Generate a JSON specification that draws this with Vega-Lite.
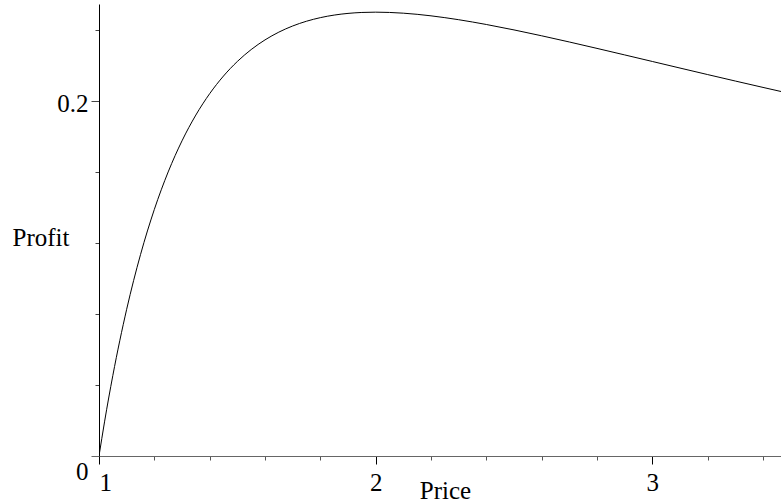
{
  "$schema": "https://vega.github.io/schema/vega-lite/v6.json",
  "width": 682,
  "height": 452,
  "autosize": {"type": "none"},
  "padding": {"left": 99, "top": 4, "right": 0, "bottom": 46},
  "background": "white",
  "config": {
    "view": {"stroke": null},
    "axis": {
      "grid": false,
      "labelFont": "Liberation Serif",
      "titleFont": "Liberation Serif",
      "labelFontSize": 25,
      "titleFontSize": 25,
      "titleFontWeight": "normal",
      "labelColor": "black",
      "titleColor": "black",
      "labelOverlap": false,
      "labelFlush": false
    }
  },
  "data": {
    "values": [
      {"price": 1.0, "profit": 0},
      {"price": 1.02, "profit": 0.019223},
      {"price": 1.05, "profit": 0.045351},
      {"price": 1.1, "profit": 0.082645},
      {"price": 1.15, "profit": 0.113422},
      {"price": 1.2, "profit": 0.138889},
      {"price": 1.25, "profit": 0.16},
      {"price": 1.3, "profit": 0.177515},
      {"price": 1.35, "profit": 0.192044},
      {"price": 1.4, "profit": 0.204082},
      {"price": 1.45, "profit": 0.214031},
      {"price": 1.5, "profit": 0.222222},
      {"price": 1.55, "profit": 0.228928},
      {"price": 1.6, "profit": 0.234375},
      {"price": 1.65, "profit": 0.238751},
      {"price": 1.7, "profit": 0.242215},
      {"price": 1.75, "profit": 0.244898},
      {"price": 1.8, "profit": 0.246914},
      {"price": 1.85, "profit": 0.248356},
      {"price": 1.9, "profit": 0.249307},
      {"price": 1.95, "profit": 0.249836},
      {"price": 2.0, "profit": 0.25},
      {"price": 2.1, "profit": 0.249433},
      {"price": 2.2, "profit": 0.247934},
      {"price": 2.3, "profit": 0.245747},
      {"price": 2.4, "profit": 0.243056},
      {"price": 2.5, "profit": 0.24},
      {"price": 2.6, "profit": 0.236686},
      {"price": 2.7, "profit": 0.233196},
      {"price": 2.8, "profit": 0.229592},
      {"price": 2.9, "profit": 0.225922},
      {"price": 3.0, "profit": 0.222222},
      {"price": 3.1, "profit": 0.218522},
      {"price": 3.2, "profit": 0.214844},
      {"price": 3.3, "profit": 0.211203},
      {"price": 3.4, "profit": 0.207612},
      {"price": 3.5, "profit": 0.204082}
    ]
  },
  "mark": {"type": "line", "color": "black", "strokeWidth": 1, "clip": true, "interpolate": "monotone"},
  "encoding": {
    "x": {
      "field": "price",
      "type": "quantitative",
      "scale": {"domain": [1, 3.465], "nice": false, "zero": false},
      "axis": {
        "title": "Price",
        "values": [1, 1.2, 1.4, 1.6, 1.8, 2, 2.2, 2.4, 2.6, 2.8, 3, 3.2, 3.4],
        "labelExpr": "datum.value == 1 ? '1' : datum.value == 2 ? '2' : datum.value == 3 ? '3' : ''",
        "tickSize": {"condition": {"test": "datum.value == 1 || datum.value == 2 || datum.value == 3", "value": 8}, "value": 4},
        "tickColor": {"condition": {"test": "datum.value == 1 || datum.value == 2 || datum.value == 3", "value": "black"}, "value": "#555"},
        "domainColor": "#666",
        "labelAlign": {"condition": {"test": "datum.value == 1", "value": "left"}, "value": "center"},
        "labelBaseline": "top",
        "labelPadding": 6,
        "titleX": 346,
        "titleY": 42,
        "titleAlign": "center",
        "titleBaseline": "alphabetic"
      }
    },
    "y": {
      "field": "profit",
      "type": "quantitative",
      "scale": {"domain": [0, 0.2546], "nice": false, "zero": true},
      "axis": {
        "title": "Profit",
        "values": [0, 0.04, 0.08, 0.12, 0.16, 0.2, 0.24],
        "labelExpr": "datum.value == 0 ? '0' : datum.value == 0.2 ? '0.2' : ''",
        "tickSize": {"condition": {"test": "datum.value == 0 || datum.value == 0.2", "value": 8}, "value": 4},
        "tickColor": {"condition": {"test": "datum.value == 0", "value": "#666"}, "value": "#444"},
        "domainColor": "black",
        "labelBaseline": {"condition": {"test": "datum.value == 0", "value": "top"}, "value": "middle"},
        "labelOffset": 3,
        "labelPadding": 3,
        "titleAngle": 0,
        "titleX": -87,
        "titleY": 241,
        "titleAlign": "left",
        "titleBaseline": "alphabetic"
      }
    }
  }
}
